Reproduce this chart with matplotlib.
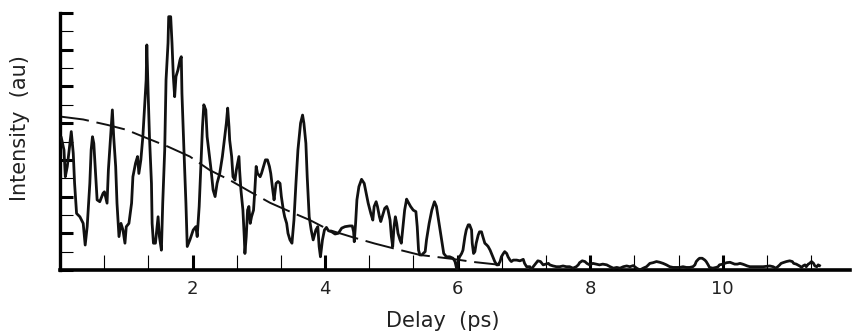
import matplotlib
matplotlib.use('Agg')
import matplotlib.pyplot as plt
from matplotlib.ticker import MultipleLocator

# --- data ---
delay_ps = [
    0.02, 0.06, 0.08, 0.11, 0.15, 0.17, 0.20, 0.22, 0.25, 0.30, 0.35, 0.38, 0.41, 0.45,
    0.47, 0.49, 0.51, 0.53, 0.56, 0.60, 0.65, 0.67, 0.71, 0.73, 0.76, 0.79, 0.81, 0.84,
    0.86, 0.89, 0.92, 0.95, 0.98, 1.00, 1.04, 1.08, 1.10, 1.14, 1.17, 1.19, 1.22, 1.25,
    1.28, 1.30, 1.31, 1.33, 1.35, 1.38, 1.39, 1.41, 1.44, 1.48, 1.50, 1.53, 1.55, 1.58,
    1.60, 1.63, 1.64, 1.67, 1.69, 1.71, 1.73, 1.75, 1.78, 1.81, 1.83, 1.84, 1.87, 1.90,
    1.92, 1.96, 2.01, 2.05, 2.07, 2.10, 2.13, 2.15, 2.17, 2.20, 2.22, 2.25, 2.28, 2.31,
    2.34, 2.37, 2.41, 2.45, 2.48, 2.51, 2.53, 2.55, 2.56, 2.59, 2.61, 2.64, 2.66, 2.70,
    2.71, 2.73, 2.76, 2.78, 2.79, 2.81, 2.83, 2.85, 2.87, 2.89, 2.92, 2.94, 2.96, 2.98,
    3.02, 3.04, 3.07, 3.10, 3.13, 3.16, 3.18, 3.21, 3.23, 3.26, 3.29, 3.32, 3.34, 3.37,
    3.39, 3.42, 3.44, 3.47, 3.50, 3.53, 3.56, 3.59, 3.63, 3.66, 3.68, 3.71, 3.73, 3.76,
    3.79, 3.82, 3.86, 3.89, 3.91, 3.93, 3.96, 3.99, 4.02, 4.05, 4.10, 4.15, 4.20, 4.25,
    4.30, 4.37, 4.41, 4.43, 4.44, 4.46, 4.48, 4.51, 4.55, 4.59, 4.62, 4.65, 4.69, 4.72,
    4.74, 4.77, 4.79, 4.82, 4.84, 4.87, 4.90, 4.93, 4.95, 4.98, 5.00, 5.02, 5.04, 5.06,
    5.08, 5.10, 5.13, 5.15, 5.18, 5.20, 5.23, 5.25, 5.29, 5.33, 5.37, 5.39, 5.41, 5.43,
    5.46, 5.48, 5.51, 5.53, 5.57, 5.61, 5.65, 5.68, 5.72, 5.76, 5.79, 5.83, 5.88, 5.93,
    5.96, 5.99, 6.01, 6.03, 6.06, 6.08, 6.11, 6.13, 6.16, 6.18, 6.21, 6.22, 6.24, 6.26,
    6.28, 6.31, 6.33, 6.36, 6.38, 6.41, 6.44, 6.46, 6.49, 6.51, 6.54, 6.56, 6.59, 6.61,
    6.64, 6.66, 6.69, 6.71, 6.74, 6.76, 6.79, 6.81, 6.84, 6.89, 6.94, 6.99, 7.01, 7.04,
    7.09, 7.11, 7.14, 7.18, 7.21, 7.25, 7.29, 7.33, 7.37, 7.39, 7.44, 7.49, 7.54, 7.59,
    7.64, 7.69, 7.74, 7.79, 7.82, 7.84, 7.88, 7.92, 7.95, 7.99, 8.04, 8.09, 8.14, 8.19,
    8.25, 8.30, 8.35, 8.40, 8.45, 8.50, 8.55, 8.60, 8.65, 8.70, 8.75, 8.80, 8.85, 8.90,
    8.95, 9.00, 9.05, 9.10, 9.15, 9.20, 9.25, 9.35, 9.40, 9.45, 9.50, 9.55, 9.58, 9.60,
    9.63, 9.65, 9.69, 9.73, 9.75, 9.78, 9.80, 9.85, 9.90, 9.93, 9.95, 10.00, 10.03, 10.06,
    10.11, 10.15, 10.18, 10.22, 10.26, 10.30, 10.33, 10.37, 10.41, 10.51, 10.61, 10.71,
    10.76, 10.80, 10.83, 10.86, 10.88, 10.91, 10.96, 11.01, 11.05, 11.07, 11.11, 11.16,
    11.19, 11.21, 11.24, 11.26, 11.29, 11.31, 11.34, 11.37, 11.39, 11.42, 11.44, 11.46,
]
intensity = [
    3.60, 3.27, 2.54, 2.82, 3.45, 3.77, 3.18, 2.36, 1.54, 1.45, 1.27, 0.68, 1.18, 2.36,
    3.27, 3.63, 3.45, 2.82, 1.91, 1.86, 2.09, 2.13, 1.82, 2.72, 3.54, 4.36, 3.63, 2.82,
    1.82, 0.91, 1.27, 1.09, 0.73, 1.18, 1.27, 1.82, 2.54, 2.91, 3.09, 2.63, 3.00, 3.63,
    4.54, 5.18, 6.13, 4.81, 3.63, 2.36, 1.27, 0.73, 0.73, 1.45, 0.91, 0.54, 1.82, 3.27,
    5.18, 6.18, 6.90, 6.90, 6.18, 5.27, 4.72, 5.27, 5.45, 5.72, 5.81, 4.81, 3.27, 1.82,
    0.64, 0.82, 1.09, 1.18, 0.91, 1.73, 3.00, 3.90, 4.50, 4.36, 3.63, 3.18, 2.72, 2.18,
    2.00, 2.36, 2.63, 3.09, 3.54, 4.00, 4.41, 3.90, 3.54, 3.09, 2.54, 2.45, 2.72, 3.09,
    2.72, 2.18, 1.63, 0.91, 0.45, 0.91, 1.63, 1.73, 1.27, 1.45, 1.63, 2.18, 2.82, 2.63,
    2.54, 2.63, 2.82, 3.00, 3.00, 2.82, 2.63, 2.18, 1.91, 2.36, 2.41, 2.36, 2.00, 1.63,
    1.45, 1.27, 1.00, 0.82, 0.73, 1.36, 2.36, 3.27, 4.00, 4.22, 4.00, 3.45, 2.54, 1.45,
    1.09, 0.82, 1.09, 1.18, 0.64, 0.36, 0.82, 1.09, 1.16, 1.07, 1.04, 0.98, 1.00, 1.14,
    1.18, 1.20, 1.20, 1.04, 0.77, 1.27, 1.91, 2.27, 2.47, 2.36, 2.09, 1.82, 1.54, 1.36,
    1.73, 1.86, 1.73, 1.45, 1.32, 1.50, 1.68, 1.73, 1.63, 1.36, 0.91, 0.64, 1.18, 1.45,
    1.27, 1.00, 0.82, 0.73, 1.27, 1.63, 1.93, 1.86, 1.73, 1.63, 1.59, 1.18, 0.54, 0.41,
    0.41, 0.45, 0.50, 0.82, 1.27, 1.63, 1.86, 1.73, 1.27, 0.82, 0.45, 0.36, 0.36, 0.32,
    0.23, 0.00, 0.27, 0.36, 0.45, 0.54, 0.91, 1.09, 1.23, 1.23, 1.09, 0.73, 0.45, 0.50,
    0.73, 0.95, 1.04, 1.04, 0.91, 0.73, 0.68, 0.64, 0.54, 0.45, 0.32, 0.23, 0.14, 0.14,
    0.23, 0.36, 0.45, 0.50, 0.45, 0.36, 0.27, 0.23, 0.27, 0.27, 0.25, 0.29, 0.18, 0.09,
    0.09, 0.00, 0.09, 0.18, 0.25, 0.23, 0.14, 0.16, 0.18, 0.14, 0.11, 0.09, 0.09, 0.11,
    0.09, 0.09, 0.05, 0.09, 0.14, 0.20, 0.25, 0.23, 0.18, 0.14, 0.18, 0.16, 0.14, 0.16,
    0.14, 0.09, 0.05, 0.07, 0.05, 0.09, 0.11, 0.09, 0.12, 0.05, 0.00, 0.05, 0.09, 0.18,
    0.20, 0.23, 0.21, 0.18, 0.14, 0.09, 0.07, 0.07, 0.09, 0.07, 0.07, 0.09, 0.14, 0.23,
    0.29, 0.32, 0.32, 0.27, 0.23, 0.14, 0.07, 0.05, 0.07, 0.09, 0.14, 0.16, 0.18, 0.20,
    0.21, 0.18, 0.16, 0.16, 0.18, 0.16, 0.14, 0.11, 0.09, 0.09, 0.09, 0.11,
    0.09, 0.05, 0.09, 0.14, 0.18, 0.20, 0.23, 0.25, 0.23, 0.18, 0.16, 0.11,
    0.07, 0.11, 0.14, 0.09, 0.16, 0.18, 0.23, 0.18, 0.11, 0.09, 0.14, 0.12,
]

# envelope (dashed curve)
env_delay = [0.0, 0.35, 0.72, 1.00, 1.23, 1.63, 1.96, 2.26, 2.56, 2.87, 3.17,
             3.47, 3.77, 4.06, 4.42, 4.75, 5.03, 5.43, 5.93, 6.23, 6.54, 6.64]
env_intensity = [4.18, 4.10, 3.95, 3.82, 3.65, 3.36, 3.09, 2.72, 2.45, 2.13, 1.83,
                 1.59, 1.36, 1.09, 0.89, 0.72, 0.59, 0.41, 0.30, 0.22, 0.16, 0.14]

x_ticks = [2, 4, 6, 8, 10]

# --- plot ---
fig = plt.figure(figsize=(8.57, 3.36), dpi=100)
ax = fig.add_axes([60 / 857, 66 / 336, 790 / 857, 257 / 336])

ax.plot(env_delay, env_intensity, color='#111111', lw=1.4, dashes=(15, 4), zorder=2)
ax.plot(delay_ps, intensity, color='#111111', lw=2.0, solid_joinstyle='round', zorder=3)

ax.set_xlim(0, 11.92)
ax.set_ylim(0, 7)

for side in ['top', 'right']:
    ax.spines[side].set_visible(False)
ax.spines['left'].set_linewidth(2.4)
ax.spines['bottom'].set_linewidth(2.6)

ax.set_xticks(x_ticks)
ax.set_xticklabels([str(t) for t in x_ticks])
ax.xaxis.set_minor_locator(MultipleLocator(2 / 3))
ax.yaxis.set_major_locator(MultipleLocator(1))
ax.yaxis.set_minor_locator(MultipleLocator(0.5))

ax.tick_params(axis='x', which='major', direction='in', length=11, width=2.2,
               labelsize=13, labelcolor='#222222', pad=7)
ax.tick_params(axis='x', which='minor', direction='in', length=11, width=0.8)
ax.tick_params(axis='y', which='major', direction='in', length=9, width=2.2,
               labelleft=False)
ax.tick_params(axis='y', which='minor', direction='in', length=9, width=0.8)

ax.set_xlabel('Delay  (ps)', fontsize=15, color='#222222')
ax.set_ylabel('Intensity  (au)', fontsize=15, color='#222222')
ax.xaxis.label.set_va('center')
ax.yaxis.label.set_va('center')
ax.xaxis.set_label_coords(0.485, -0.198)
ax.yaxis.set_label_coords(-0.051, 0.553)

fig.savefig('out.png', dpi=100)
